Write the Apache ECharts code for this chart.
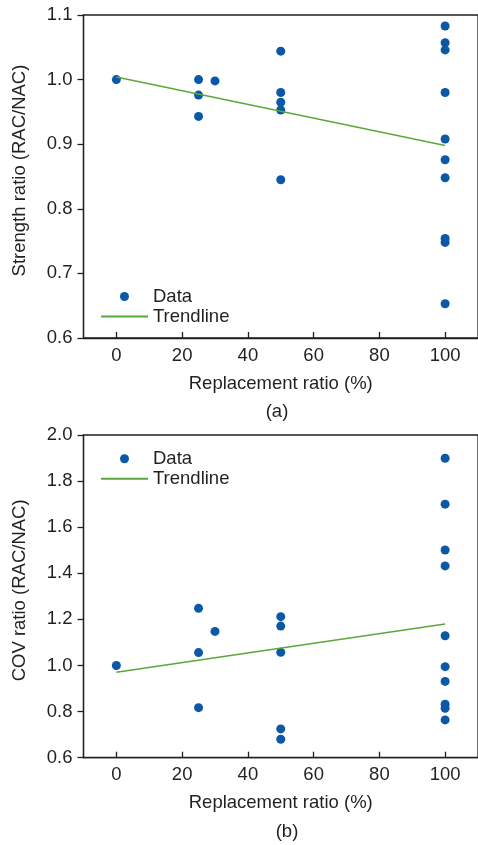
<!DOCTYPE html>
<html>
<head>
<meta charset="utf-8">
<script src="https://cdn.jsdelivr.net/npm/echarts@6/dist/echarts.min.js"></script>
<style>
html,body{margin:0;padding:0;background:#fff;}
#c{width:478px;height:845px;}
</style>
</head>
<body>
<div id="c"></div>
<script>
// ---- data ----
const xTicks = [0, 20, 40, 60, 80, 100];
const strengthX = [0, 25, 25, 25, 30, 50, 50, 50, 50, 50, 100, 100, 100, 100, 100, 100, 100, 100, 100, 100];
const strengthY = [1.000, 1.000, 0.976, 0.943, 0.998, 1.044, 0.980, 0.965, 0.953, 0.845, 1.083, 1.057, 1.046, 0.980, 0.908, 0.876, 0.848, 0.754, 0.748, 0.653];
const strengthTrendX = [0, 100];
const strengthTrendY = [1.004, 0.898];

const covX = [0, 25, 25, 25, 30, 50, 50, 50, 50, 50, 100, 100, 100, 100, 100, 100, 100, 100, 100, 100];
const covY = [1.000, 1.248, 1.056, 0.817, 1.148, 1.212, 1.171, 1.057, 0.725, 0.680, 1.899, 1.700, 1.501, 1.432, 1.129, 0.995, 0.931, 0.832, 0.814, 0.764];
const covTrendX = [0, 100];
const covTrendY = [0.9705, 1.180];

const seriesNames = ['Data', 'Trendline'];
const xAxisName = 'Replacement ratio (%)';
const yNames = ['Strength ratio (RAC/NAC)', 'COV ratio (RAC/NAC)'];
const panelLabels = ['(a)', '(b)'];

// ---- styles ----
const FONT = "'Liberation Sans', Arial, sans-serif";
const FS = 18.5;
const INK = '#231f20';
const DOT = '#0b58a6';
const GREEN = '#5aa83c';

const pairs = (xs, ys) => xs.map((x, i) => [x, ys[i]]);

function xAxisCfg(gi) {
  return {
    type: 'value', gridIndex: gi, min: -10, max: 110,
    name: xAxisName, nameLocation: 'middle', nameGap: 36,
    nameTextStyle: {fontFamily: FONT, fontSize: FS, color: INK},
    axisLine: {show: true, onZero: false, lineStyle: {color: INK, width: 1.3}},
    axisTick: {show: true, inside: true, length: 6, customValues: xTicks, lineStyle: {color: INK, width: 1.3}},
    axisLabel: {show: true, margin: 8, customValues: xTicks, fontFamily: FONT, fontSize: FS, color: INK},
    splitLine: {show: false}
  };
}
function yAxisCfg(gi, min, max, interval) {
  return {
    type: 'value', gridIndex: gi, min: min, max: max, interval: interval,
    name: yNames[gi], nameLocation: 'middle', nameGap: 54,
    nameTextStyle: {fontFamily: FONT, fontSize: FS, color: INK, padding: [0, 0, 0, 12]},
    axisLine: {show: true, onZero: false, lineStyle: {color: INK, width: 1.3}},
    axisTick: {show: true, inside: false, length: 6, lineStyle: {color: INK, width: 1.3}},
    axisLabel: {margin: 11, fontFamily: FONT, fontSize: FS, color: INK,
      formatter: v => v.toFixed(1)},
    splitLine: {show: false}
  };
}
function legendCfg(top) {
  return {
    data: [
      {name: seriesNames[0]},
      {name: seriesNames[1], itemStyle: {opacity: 0}}
    ],
    orient: 'vertical', left: 100, top: top, padding: 0,
    itemWidth: 47, itemHeight: 9, itemGap: 1,
    textStyle: {fontFamily: FONT, fontSize: FS, color: INK, lineHeight: 18},
    selectedMode: false
  };
}

const chart = echarts.init(document.getElementById('c'), null, {renderer: 'canvas'});
chart.setOption({
  animation: false,
  backgroundColor: '#ffffff',
  grid: [
    {left: 83.5, top: 15, width: 400, height: 323, show: true, borderColor: INK, borderWidth: 1.3},
    {left: 83.5, top: 435, width: 400, height: 322.7, show: true, borderColor: INK, borderWidth: 1.3}
  ],
  xAxis: [xAxisCfg(0), xAxisCfg(1)],
  yAxis: [yAxisCfg(0, 0.6, 1.1, 0.1), yAxisCfg(1, 0.6, 2.0, 0.2)],
  legend: [legendCfg(287), legendCfg(449.3)],
  graphic: [
    {type: 'text', x: 277, y: 412, style: {text: panelLabels[0], align: 'center', verticalAlign: 'middle', font: FS + 'px ' + FONT, fill: INK}},
    {type: 'text', x: 287, y: 832, style: {text: panelLabels[1], align: 'center', verticalAlign: 'middle', font: FS + 'px ' + FONT, fill: INK}}
  ],
  series: [
    {name: seriesNames[0], type: 'scatter', xAxisIndex: 0, yAxisIndex: 0, symbolSize: 9,
     itemStyle: {color: DOT, opacity: 1}, data: pairs(strengthX, strengthY), z: 3},
    {name: seriesNames[1], type: 'line', xAxisIndex: 0, yAxisIndex: 0, symbol: 'none',
     lineStyle: {color: GREEN, width: 1.5}, itemStyle: {color: GREEN}, data: pairs(strengthTrendX, strengthTrendY), z: 4},
    {name: seriesNames[0], type: 'scatter', xAxisIndex: 1, yAxisIndex: 1, symbolSize: 9,
     itemStyle: {color: DOT, opacity: 1}, data: pairs(covX, covY), z: 3},
    {name: seriesNames[1], type: 'line', xAxisIndex: 1, yAxisIndex: 1, symbol: 'none',
     lineStyle: {color: GREEN, width: 1.5}, itemStyle: {color: GREEN}, data: pairs(covTrendX, covTrendY), z: 4}
  ]
});
</script>
</body>
</html>
